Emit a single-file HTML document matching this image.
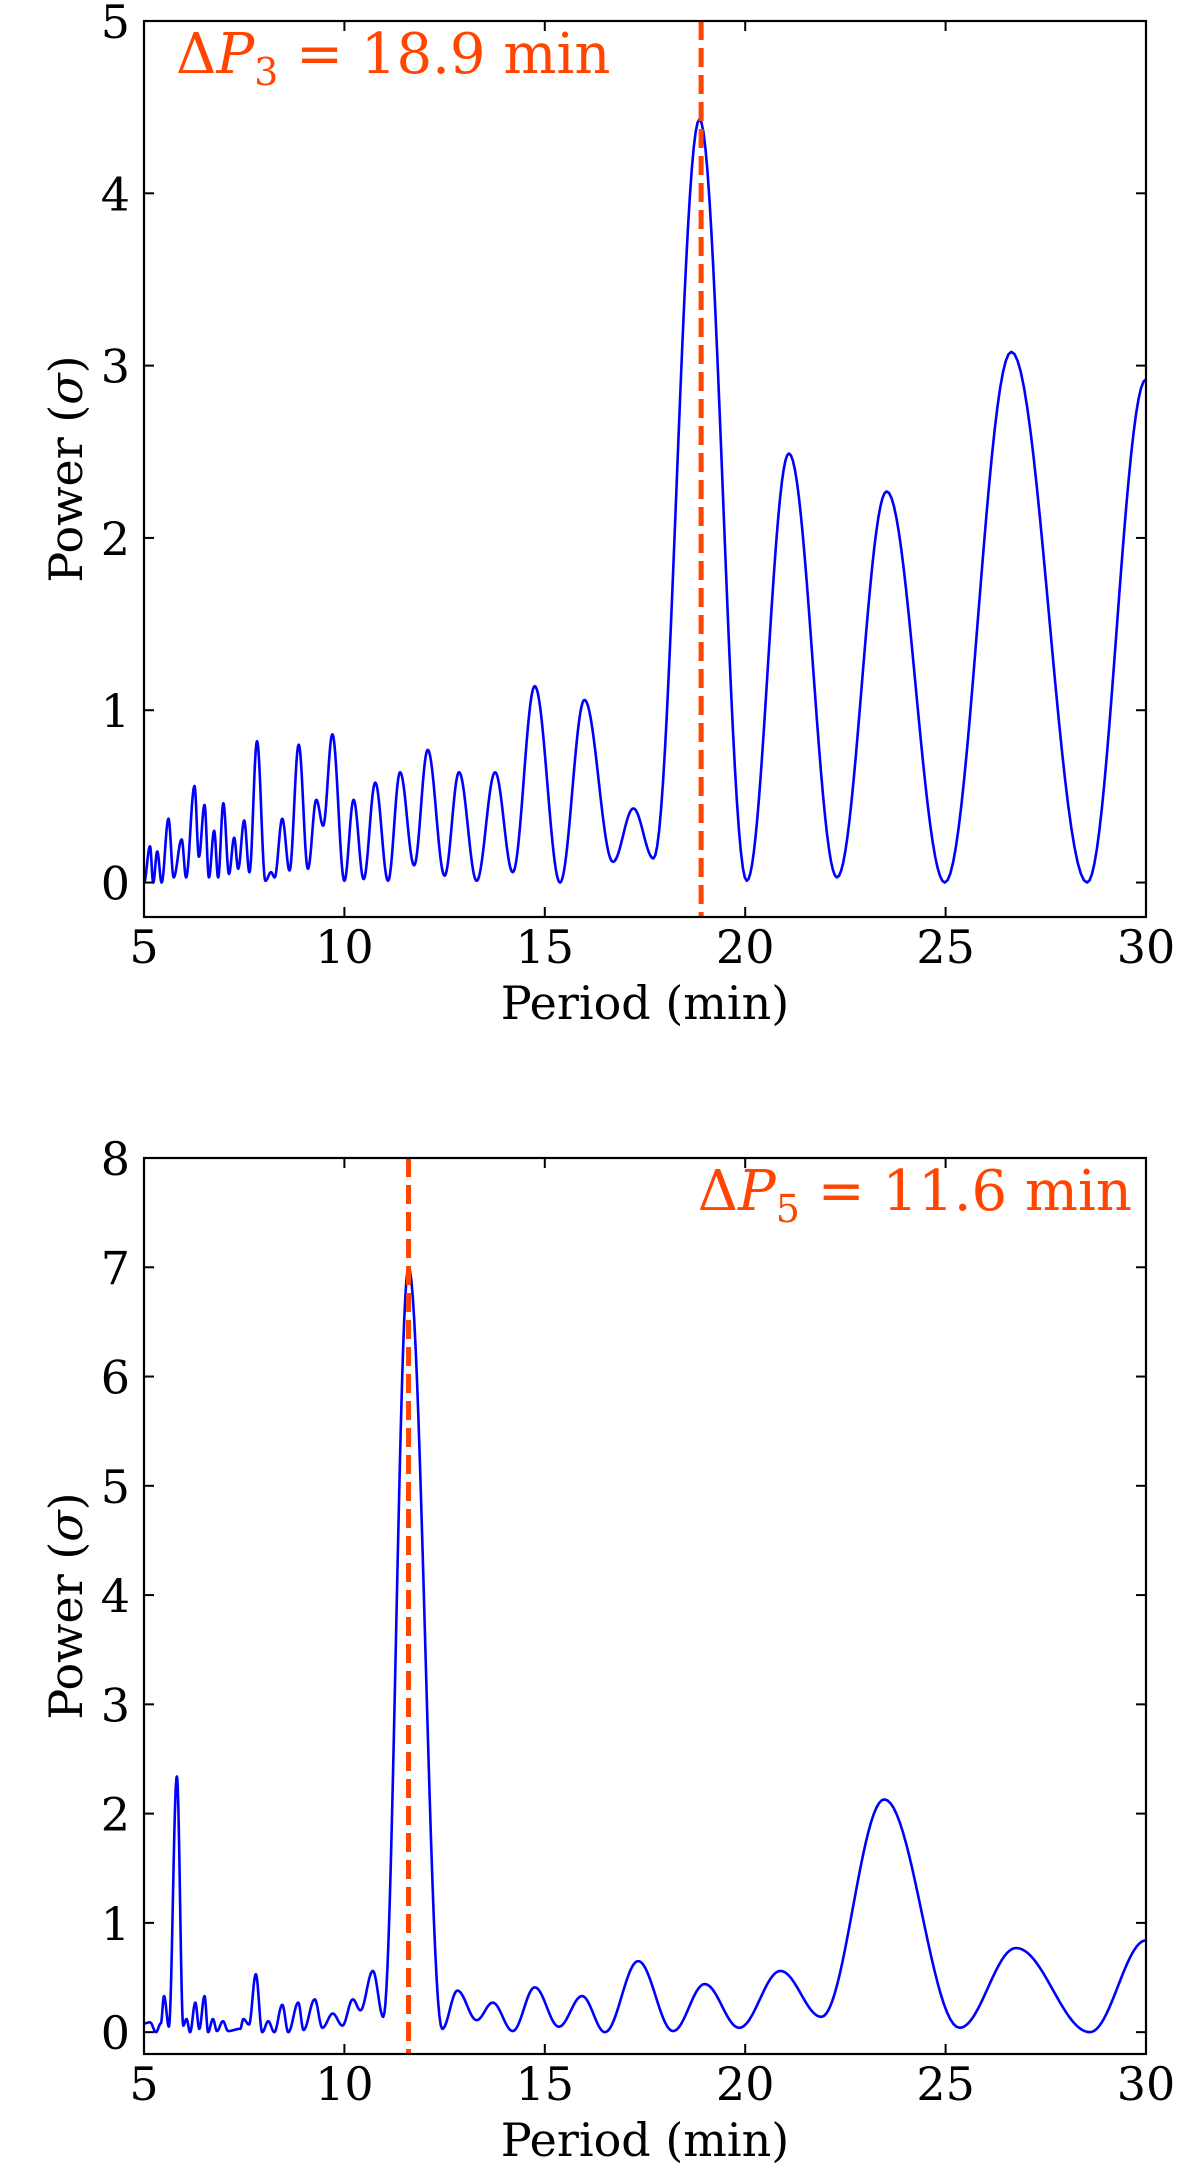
<!DOCTYPE html>
<html><head><meta charset="utf-8"><style>
html,body{margin:0;padding:0;background:#fff;}
svg{display:block;}
text{font-family:"DejaVu Serif","Liberation Serif",serif;fill:#000;}
</style></head><body>
<svg id="fig" width="1200" height="2178" viewBox="0 0 1200 2178" xmlns="http://www.w3.org/2000/svg"></svg>
<script>
// ---- Data: top panel (Delta P3) ----
const topPeriods = [5.0,5.15,5.23,5.33,5.44,5.61,5.74,5.94,6.05,6.26,6.37,6.51,6.62,6.75,6.85,6.98,7.12,7.25,7.35,7.5,7.63,7.82,8.03,8.17,8.26,8.45,8.63,8.86,9.09,9.3,9.47,9.7,10.0,10.23,10.48,10.77,11.09,11.39,11.74,12.08,12.5,12.86,13.3,13.76,14.2,14.75,15.38,15.99,16.7,17.21,17.71,18.86,20.04,21.09,22.29,23.53,24.98,26.64,28.53,30.0];
const topPower = [0.0,0.21,0.0,0.18,0.0,0.37,0.03,0.25,0.03,0.56,0.15,0.45,0.03,0.3,0.03,0.46,0.05,0.26,0.08,0.36,0.06,0.82,0.01,0.06,0.03,0.37,0.07,0.8,0.08,0.48,0.33,0.86,0.01,0.48,0.02,0.58,0.01,0.64,0.1,0.77,0.04,0.64,0.01,0.64,0.06,1.14,0.0,1.06,0.12,0.43,0.14,4.43,0.01,2.49,0.03,2.27,0.0,3.08,0.0,2.92];
const topMarker = 18.9;
const topLabel = "18.9";
const topYTicks = [0,1,2,3,4,5];
// ---- Data: bottom panel (Delta P5) ----
const botPeriods = [5.0,5.15,5.3,5.42,5.5,5.62,5.82,5.98,6.06,6.15,6.28,6.38,6.51,6.6,6.72,6.82,6.97,7.1,7.4,7.48,7.62,7.79,7.95,8.1,8.25,8.45,8.6,8.85,8.98,9.26,9.45,9.71,9.95,10.21,10.4,10.71,10.97,11.6,12.44,12.82,13.3,13.7,14.2,14.75,15.35,15.93,16.5,17.33,18.2,18.99,19.85,20.88,21.9,23.47,25.35,26.76,28.6,30.0];
const botPower = [0.08,0.09,0.0,0.08,0.33,0.05,2.34,0.06,0.12,0.0,0.27,0.03,0.33,0.0,0.12,0.01,0.1,0.01,0.03,0.12,0.07,0.53,0.0,0.1,0.0,0.25,0.0,0.27,0.02,0.3,0.04,0.17,0.06,0.3,0.2,0.56,0.14,7.0,0.03,0.38,0.11,0.27,0.01,0.41,0.05,0.33,0.0,0.65,0.01,0.44,0.04,0.56,0.14,2.13,0.04,0.77,0.0,0.84];
const botMarker = 11.6;
const botLabel = "11.6";
const botYTicks = [0,1,2,3,4,5,6,7,8];
const xTicks = [5,10,15,20,25,30];

const NS = "http://www.w3.org/2000/svg";
const svg = document.getElementById('fig');
function mk(tag, attrs, parent){
  const e = document.createElementNS(NS, tag);
  for (const k in attrs) e.setAttribute(k, attrs[k]);
  (parent||svg).appendChild(e);
  return e;
}

function panel(cfg){
  const L=144, R=1146, T=cfg.top, B=cfg.top+896;
  const xmin=5, xmax=30, ymin=-0.2, ymax=cfg.ymax;
  const sx = v => L + (v-xmin)/(xmax-xmin)*(R-L);
  const sy = v => B - (v-ymin)/(ymax-ymin)*(B-T);
  const g = mk('g', {});
  
  

  const xs = cfg.px, ys = cfg.py;
  let d = '';
  for (let i=0;i<xs.length-1;i++){
    const n = 24;
    for (let j=(i===0?0:1); j<=n; j++){
      const t=j/n, m=(1-Math.cos(Math.PI*t))/2;
      const x = xs[i]+(xs[i+1]-xs[i])*t;
      const y = ys[i]+(ys[i+1]-ys[i])*m;
      d += (d?'L':'M') + sx(x).toFixed(2) + ',' + sy(y).toFixed(2);
    }
  }
  const clip = mk('clipPath', {id:'clip'+cfg.id}, g);
  mk('rect', {x:L, y:T, width:R-L, height:B-T}, clip);
  const line = mk('path', {d:d, fill:'none', stroke:'#0000ff', 'stroke-width':2.6, 'stroke-linejoin':'round', 'clip-path':'url(#clip'+cfg.id+')'}, g);
  
  

  const dash = mk('line', {x1:sx(cfg.marker), x2:sx(cfg.marker), y1:T, y2:B, stroke:'#ff4500', 'stroke-width':5, 'stroke-dasharray':'19,8'}, g);
  
  

  for (const t of xTicks){
    const x=sx(t);
    mk('line',{x1:x,x2:x,y1:B,y2:B-10,stroke:'#000','stroke-width':2},g);
    mk('line',{x1:x,x2:x,y1:T,y2:T+10,stroke:'#000','stroke-width':2},g);
    const tl = mk('text',{x:x,y:B+46,'font-size':46,'text-anchor':'middle'},g);
    tl.textContent = t;
    
    
  }
  for (const t of cfg.yticks){
    const y=sy(t);
    mk('line',{x1:L,x2:L+10,y1:y,y2:y,stroke:'#000','stroke-width':2},g);
    mk('line',{x1:R,x2:R-10,y1:y,y2:y,stroke:'#000','stroke-width':2},g);
    const tl = mk('text',{x:130,y:y+17,'font-size':46,'text-anchor':'end'},g);
    tl.textContent = t;
    
    
  }
  const frame = mk('rect',{x:L,y:T,width:R-L,height:B-T,fill:'none',stroke:'#000','stroke-width':2.2},g);
  
  

  const xl = mk('text',{x:(L+R)/2,y:B+102,'font-size':46,'text-anchor':'middle'},g);
  xl.textContent = 'Period (min)';
  
  
  const yc=(T+B)/2;
  const yl = mk('text',{x:82,y:yc,'font-size':46,'text-anchor':'middle',transform:'rotate(-90 82 '+yc+')'},g);
  yl.innerHTML = 'Power (<tspan font-style="italic">σ</tspan>)';
  
  

  const ann = mk('text',{x:cfg.annX,y:T+52,'font-size':56,'text-anchor':cfg.anchor,style:'fill:#ff4500'},g);
  ann.innerHTML = 'Δ<tspan font-style="italic">P</tspan><tspan font-size="38" dy="12">'+cfg.sub+'</tspan><tspan dy="-12"> = '+cfg.label+' min</tspan>';
  
  
}

panel({id:1,name:'top-panel',top:21,ymax:5,px:topPeriods,py:topPower,marker:topMarker,label:topLabel,sub:'3',yticks:topYTicks,annX:176,anchor:'start'});
panel({id:2,name:'bottom-panel',top:1158,ymax:8,px:botPeriods,py:botPower,marker:botMarker,label:botLabel,sub:'5',yticks:botYTicks,annX:1132,anchor:'end'});
</script>
</body></html>
